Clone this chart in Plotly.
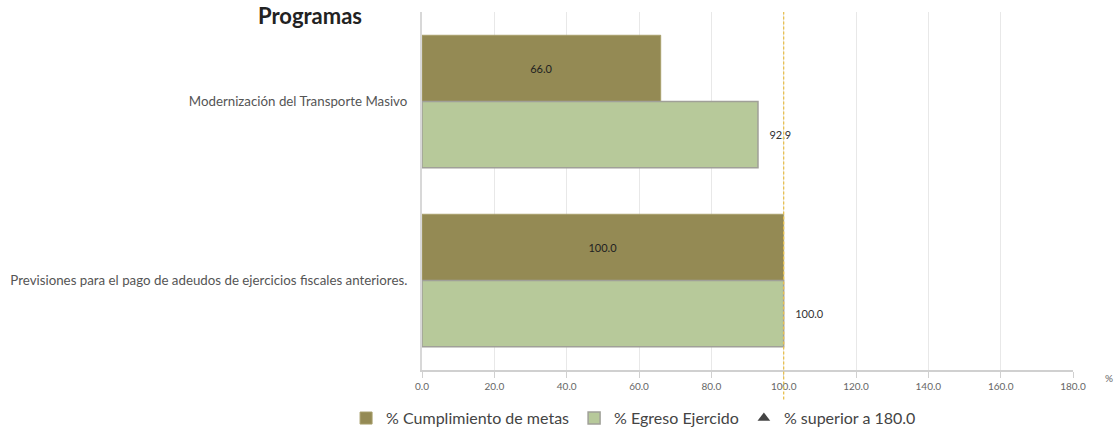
import plotly.graph_objects as go

categories = ["Modernización del Transporte Masivo",
              "Previsiones para el pago de adeudos de ejercicios fiscales anteriores."]
cumplimiento = [66.0, 100.0]
egreso = [92.9, 100.0]
tick_vals = [0, 20, 40, 60, 80, 100, 120, 140, 160, 180]
tick_text = ["0.0", "20.0", "40.0", "60.0", "80.0", "100.0", "120.0", "140.0", "160.0", "180.0"]
ref_line = 100
limit = 180.0

FONT = "Lato, 'Open Sans', sans-serif"
PAD = "\u00a0\u00a0\u00a0"

fig = go.Figure()
fig.add_trace(go.Bar(
    y=categories, x=cumplimiento, orientation="h", name="% Cumplimiento de metas",
    marker=dict(color="#948a54", line=dict(color="#a89f6c", width=1)),
    text=[f"{v:.1f}" for v in cumplimiento], textposition="inside",
    insidetextanchor="middle", textfont=dict(size=11, color="#222", family=FONT),
))
fig.add_trace(go.Bar(
    y=categories, x=egreso, orientation="h", name="% Egreso Ejercido",
    marker=dict(color="#b7c99a", line=dict(color="#a0a098", width=1.5)),
    text=[PAD + f"{v:.1f}" for v in egreso], textposition="outside",
    textfont=dict(size=11, color="#333", family=FONT), cliponaxis=False,
))
fig.add_trace(go.Scatter(
    x=[None], y=[None], mode="markers", name=f"% superior a {limit:.1f}",
    marker=dict(symbol="triangle-up", size=11, color="#444"),
))

fig.add_shape(type="line", xref="x", yref="paper", x0=ref_line, x1=ref_line,
              y0=-0.25, y1=1, line=dict(color="#e8c050", width=1.3, dash="3px,2px"))

fig.add_annotation(text="<b>Programas</b>", xref="paper", yref="paper",
                   x=-0.172, y=0.989, xanchor="center", yanchor="middle",
                   showarrow=False, font=dict(size=22, color="#222", family=FONT))
fig.add_annotation(text="%", xref="paper", yref="paper", x=1.055, y=0.0,
                   xanchor="center", yanchor="top", showarrow=False,
                   font=dict(size=10, color="#666", family=FONT))

fig.update_layout(
    width=1115, height=431,
    margin=dict(l=422, r=42, t=12, b=61, autoexpand=False),
    paper_bgcolor="white", plot_bgcolor="white",
    barmode="group", bargap=0.26, bargroupgap=0,
    font=dict(family=FONT, color="#555"),
    showlegend=True,
    legend=dict(orientation="h", x=0.325, xanchor="center", y=-0.087, yanchor="top",
                font=dict(size=16, color="#444", family=FONT),
                traceorder="normal", itemwidth=30),
    xaxis=dict(range=[0, 180], tickvals=tick_vals, ticktext=tick_text,
               showgrid=True, gridcolor="#e8e8e8", gridwidth=1,
               showline=True, linecolor="#d0d0d0", linewidth=2,
               ticks="outside", ticklen=6, tickcolor="#d0d0d0", automargin=False,
               tickfont=dict(size=10, color="#666", family=FONT), zeroline=False),
    yaxis=dict(autorange="reversed", showline=True, linecolor="#d8d8d8", linewidth=2,
               ticks="outside", ticklen=10, tickcolor="rgba(0,0,0,0)", automargin=False,
               tickfont=dict(size=13.3, color="#555", family=FONT), showgrid=False),
)

fig.write_html("out.html", config={"displayModeBar": False},
               post_script="document.body.style.margin='0';document.body.style.overflow='hidden';")
